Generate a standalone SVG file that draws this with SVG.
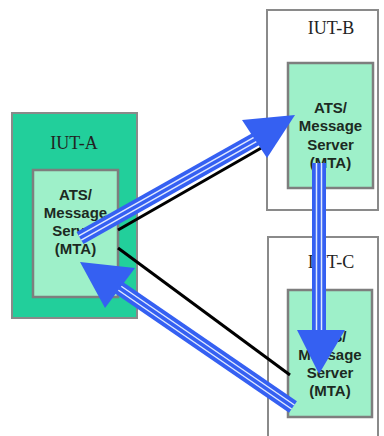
<svg xmlns="http://www.w3.org/2000/svg" width="384" height="436" viewBox="0 0 384 436">
<style>
.outerA{fill:#22cf9b;stroke:#8a8a8a;stroke-width:2}
.outerW{fill:#ffffff;stroke:#8a8a8a;stroke-width:2}
.inner{fill:#9ef0c9;stroke:#7e7e7e;stroke-width:2.5}
.iut{font-family:"Liberation Serif",serif;font-size:18px;fill:#222;text-anchor:middle}
.mta{font-family:"Liberation Sans",Arial,sans-serif;font-size:15px;font-weight:bold;fill:#1c2a22;text-anchor:middle}
.blk{stroke:#000;stroke-width:3;fill:none}
.shaft{stroke:#3560f2;stroke-width:14;fill:none}
.stripe{stroke:#dfe8ff;stroke-width:1.5;fill:none}
.head{fill:#3560f2}
</style>
<rect width="384" height="436" fill="#ffffff"/>
<g id="IUT-A">
<rect class="outerA" x="12" y="113" width="125" height="205"/>
<text class="iut" x="74" y="149">IUT-A</text>
<rect class="inner" x="33" y="170" width="85" height="127"/>
<text class="mta" x="75.5" y="200">ATS/</text>
<text class="mta" x="75.5" y="218">Message</text>
<text class="mta" x="75.5" y="236">Server</text>
<text class="mta" x="75.5" y="254">(MTA)</text>
</g>
<g id="IUT-B">
<rect class="outerW" x="267" y="10" width="111" height="200"/>
<text class="iut" x="331" y="34">IUT-B</text>
<rect class="inner" x="288" y="63" width="85" height="125"/>
<text class="mta" x="330.5" y="113">ATS/</text>
<text class="mta" x="330.5" y="131">Message</text>
<text class="mta" x="330.5" y="150">Server</text>
<text class="mta" x="330.5" y="168">(MTA)</text>
</g>
<g id="IUT-C">
<rect class="outerW" x="268" y="237" width="110" height="210"/>
<text class="iut" x="331" y="268">IUT-C</text>
<rect class="inner" x="288" y="290" width="84" height="127"/>
<text class="mta" x="330" y="342">ATS/</text>
<text class="mta" x="330" y="360">Message</text>
<text class="mta" x="330" y="378">Server</text>
<text class="mta" x="330" y="396">(MTA)</text>
</g>
<g id="connectors">
<line class="blk" x1="118" y1="230" x2="270" y2="143"/>
<line class="blk" x1="118" y1="248" x2="290" y2="375"/>
<g id="arrow-A-B">
<line class="shaft" x1="80" y1="238" x2="256" y2="139"/>
<line class="stripe" x1="78.8" y1="235.8" x2="254.8" y2="136.8"/>
<line class="stripe" x1="81.2" y1="240.2" x2="257.2" y2="141.2"/>
<polygon class="head" points="295,115 242,120 267,158"/>
</g>
<g id="arrow-B-C">
<line class="shaft" x1="319" y1="163" x2="319" y2="332"/>
<line class="stripe" x1="316.5" y1="163" x2="316.5" y2="332"/>
<line class="stripe" x1="321.5" y1="163" x2="321.5" y2="332"/>
<polygon class="head" points="297,330 345,330 319,374"/>
</g>
<g id="arrow-C-A">
<line class="shaft" x1="293" y1="407" x2="118" y2="287"/>
<line class="stripe" x1="294.4" y1="405" x2="119.4" y2="285"/>
<line class="stripe" x1="291.6" y1="409" x2="116.6" y2="289"/>
<polygon class="head" points="80,262 135,268 105,308"/>
</g>
</g>
</svg>
